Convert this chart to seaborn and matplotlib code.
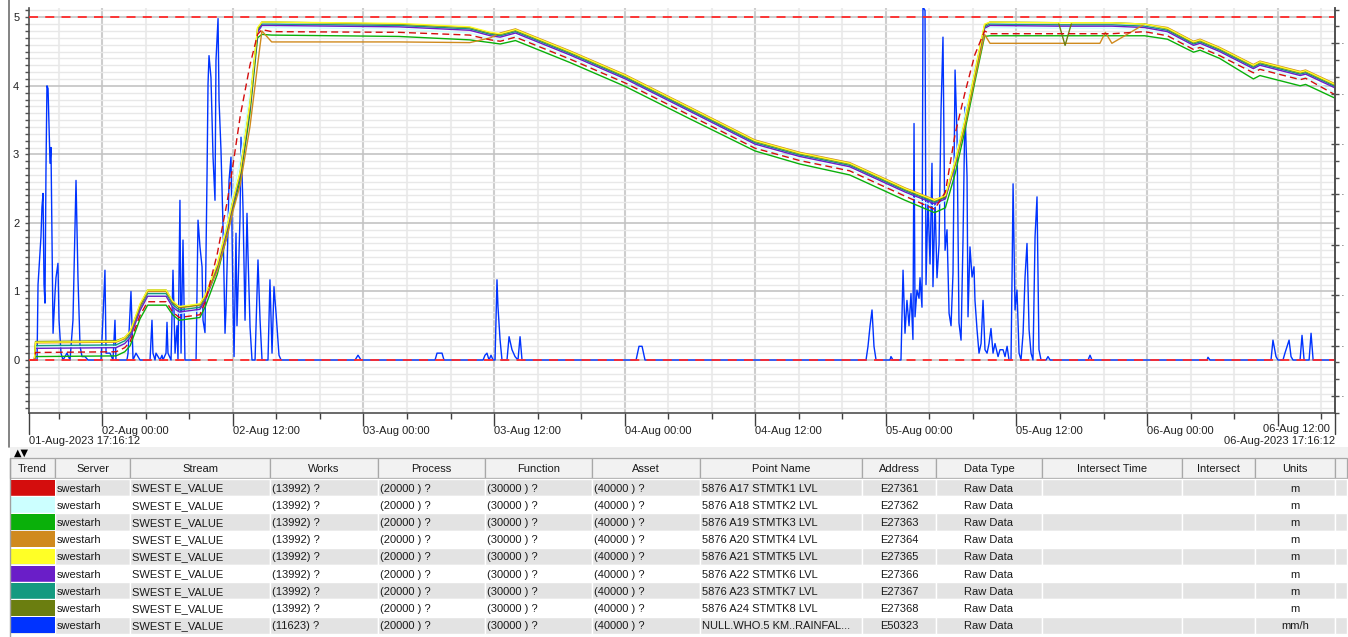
import pandas as pd
import matplotlib
matplotlib.use("Agg")
import matplotlib.pyplot as plt
import matplotlib.dates as mdates
from matplotlib.ticker import MultipleLocator, NullFormatter
from matplotlib.patches import Rectangle
import seaborn as sns

sns.set_theme(style="white")
plt.rcParams["font.family"] = ["Liberation Sans", "DejaVu Sans"]

start = pd.Timestamp("2023-08-01 17:16:12")
end = pd.Timestamp("2023-08-06 17:16:12")

# hours after start for the tank level samples
lvl_hours = [0.0, 0.5, 0.6, 8.0, 8.8, 9.3, 10.2, 10.9, 12.6, 13.2, 13.8, 15.7, 16.2, 17.3, 18.2, 18.7,
             19.4, 20.3, 21.0, 21.4, 22.3, 34.0, 40.5, 42.4, 43.3, 44.7, 49.7, 54.8, 60.7, 66.7, 70.8,
             75.4, 80.5, 83.2, 84.2, 85.1, 86.0, 86.9, 87.8, 88.3, 94.6, 95.2, 95.8, 98.4, 98.9, 99.5,
             102.5, 104.6, 107.0, 107.6, 109.4, 112.5, 113.1, 116.8, 117.3, 120.0]

stmtk1 = [0.0, 0.0, 0.11, 0.12, 0.18, 0.27, 0.65, 0.85, 0.85, 0.7, 0.62, 0.66, 0.85, 1.55, 2.3, 2.8,
          3.55, 4.3, 4.75, 4.82, 4.79, 4.78, 4.74, 4.67, 4.65, 4.71, 4.39, 4.04, 3.57, 3.09, 2.91,
          2.76, 2.39, 2.2, 2.45, 3.3, 3.9, 4.45, 4.8, 4.76, 4.76, 4.76, 4.76, 4.76, 4.76, 4.76,
          4.79, 4.73, 4.53, 4.56, 4.44, 4.19, 4.24, 4.09, 4.11, 3.87]
stmtk2 = [0.0, 0.0, 0.19, 0.2, 0.25, 0.34, 0.74, 0.95, 0.95, 0.78, 0.68, 0.72, 0.88, 1.4, 2.0, 2.4,
          2.9, 3.9, 4.8, 4.85, 4.85, 4.83, 4.77, 4.69, 4.67, 4.73, 4.41, 4.06, 3.59, 3.11, 2.93,
          2.78, 2.41, 2.24, 2.33, 2.95, 3.6, 4.25, 4.82, 4.85, 4.84, 4.84, 4.84, 4.84, 4.84, 4.84,
          4.82, 4.75, 4.55, 4.58, 4.46, 4.21, 4.26, 4.11, 4.13, 3.9]
stmtk3 = [0.0, 0.0, 0.05, 0.06, 0.12, 0.21, 0.6, 0.8, 0.8, 0.66, 0.58, 0.62, 0.78, 1.25, 1.82, 2.18,
          2.62, 3.6, 4.7, 4.75, 4.74, 4.72, 4.67, 4.63, 4.61, 4.66, 4.34, 3.99, 3.52, 3.05, 2.86,
          2.7, 2.33, 2.15, 2.22, 2.72, 3.35, 4.05, 4.72, 4.73, 4.73, 4.73, 4.73, 4.73, 4.73, 4.73,
          4.73, 4.68, 4.49, 4.52, 4.4, 4.1, 4.15, 4.0, 4.02, 3.82]
stmtk4 = [0.0, 0.0, 0.25, 0.26, 0.31, 0.4, 0.78, 1.0, 1.0, 0.84, 0.76, 0.8, 0.92, 1.3, 1.8, 2.15,
          2.55, 3.4, 4.3, 4.8, 4.64, 4.64, 4.63, 4.7, 4.77, 4.83, 4.51, 4.16, 3.69, 3.21, 3.03,
          2.88, 2.51, 2.34, 2.39, 2.85, 3.42, 4.1, 4.75, 4.62, 4.62, 4.62, 4.62, 4.62, 4.78, 4.62,
          4.9, 4.85, 4.65, 4.68, 4.56, 4.31, 4.36, 4.21, 4.23, 4.03]
stmtk5 = [0.0, 0.0, 0.26, 0.27, 0.33, 0.42, 0.82, 1.02, 1.02, 0.86, 0.78, 0.82, 0.95, 1.4, 1.95, 2.3,
          2.75, 3.75, 4.85, 4.93, 4.93, 4.91, 4.86, 4.78, 4.76, 4.82, 4.5, 4.15, 3.68, 3.2, 3.02,
          2.87, 2.5, 2.33, 2.4, 2.9, 3.5, 4.2, 4.9, 4.93, 4.92, 4.92, 4.92, 4.92, 4.92, 4.92,
          4.9, 4.84, 4.64, 4.67, 4.55, 4.3, 4.35, 4.2, 4.22, 4.02]
stmtk6 = [0.0, 0.0, 0.17, 0.18, 0.24, 0.33, 0.72, 0.93, 0.93, 0.77, 0.7, 0.74, 0.87, 1.33, 1.9, 2.25,
          2.7, 3.68, 4.78, 4.88, 4.88, 4.86, 4.81, 4.73, 4.71, 4.77, 4.45, 4.1, 3.63, 3.15, 2.97,
          2.82, 2.45, 2.28, 2.35, 2.85, 3.45, 4.15, 4.84, 4.88, 4.87, 4.87, 4.87, 4.87, 4.87, 4.87,
          4.85, 4.79, 4.59, 4.62, 4.5, 4.25, 4.3, 4.15, 4.17, 3.97]
stmtk7 = [0.0, 0.0, 0.21, 0.22, 0.28, 0.37, 0.76, 0.97, 0.97, 0.81, 0.73, 0.77, 0.9, 1.36, 1.92, 2.27,
          2.72, 3.7, 4.8, 4.9, 4.9, 4.88, 4.83, 4.75, 4.73, 4.79, 4.47, 4.12, 3.65, 3.17, 2.99,
          2.84, 2.47, 2.3, 2.37, 2.87, 3.47, 4.17, 4.86, 4.9, 4.89, 4.89, 4.89, 4.89, 4.89, 4.89,
          4.87, 4.81, 4.61, 4.64, 4.52, 4.27, 4.32, 4.17, 4.19, 3.99]
stmtk8 = [0.0, 0.0, 0.27, 0.28, 0.33, 0.41, 0.8, 1.02, 1.02, 0.85, 0.77, 0.81, 0.94, 1.38, 1.93, 2.28,
          2.72, 3.72, 4.83, 4.93, 4.93, 4.9, 4.85, 4.77, 4.75, 4.81, 4.49, 4.14, 3.67, 3.19, 3.01,
          2.86, 2.49, 2.32, 2.38, 2.88, 3.48, 4.18, 4.88, 4.93, 4.92, 4.59, 4.92, 4.92, 4.92, 4.92,
          4.9, 4.83, 4.63, 4.66, 4.54, 4.29, 4.34, 4.19, 4.21, 4.01]

# rainfall (mm/h), hours after start
rain_hours = [0.0, 0.74, 0.83, 1.10, 1.19, 1.29, 1.38, 1.47, 1.56, 1.65, 1.75, 1.93, 2.02, 2.11, 2.21,
              2.39, 2.48, 2.66, 2.76, 2.94, 3.12, 3.49, 3.77, 4.04, 4.23, 4.32, 4.50, 4.69, 4.87, 5.15,
              5.42, 6.62, 6.80, 6.98, 7.08, 7.44, 7.72, 7.90, 7.99, 9.00, 9.10, 9.37, 9.56, 9.83, 10.20,
              11.12, 11.30, 11.39, 11.58, 11.67, 11.85, 12.04, 12.22, 12.31, 12.59, 12.68, 12.77, 13.05,
              13.23, 13.42, 13.60, 13.69, 13.87, 13.97, 14.15, 14.33, 14.61, 15.35, 15.53, 15.71, 15.90,
              15.99, 16.17, 16.36, 16.45, 16.54, 16.72, 16.91, 17.09, 17.18, 17.37, 17.46, 17.64, 17.83,
              18.01, 18.10, 18.29, 18.38, 18.56, 18.75, 18.84, 19.02, 19.11, 19.39, 19.48, 19.66, 19.85,
              20.03, 20.12, 20.31, 20.49, 20.77, 21.04, 21.23, 21.41, 21.96, 22.14, 22.33, 22.51, 22.70,
              22.97, 23.16, 29.96, 30.23, 30.51, 37.31, 37.49, 37.95, 38.13, 41.72, 41.90, 42.08, 42.27,
              42.45, 42.64, 42.82, 43.00, 43.09, 43.28, 43.46, 43.92, 44.11, 44.38, 44.66, 44.93, 45.12,
              45.30, 55.78, 56.05, 56.33, 56.60, 76.91, 77.09, 77.28, 77.46, 77.64, 77.83, 79.11, 79.20,
              79.39, 80.12, 80.31, 80.49, 80.67, 80.86, 81.04, 81.22, 81.32, 81.41, 81.59, 81.78, 81.87,
              82.05, 82.14, 82.33, 82.42, 82.60, 82.79, 82.97, 83.06, 83.25, 83.43, 83.62, 83.80, 83.98,
              84.17, 84.35, 84.54, 84.72, 84.90, 85.09, 85.27, 85.45, 85.64, 85.82, 86.00, 86.19, 86.28,
              86.46, 86.65, 86.83, 86.92, 87.11, 87.29, 87.48, 87.66, 87.84, 88.03, 88.21, 88.39, 88.58,
              88.76, 89.04, 89.22, 89.50, 89.68, 89.87, 90.05, 90.23, 90.33, 90.42, 90.60, 90.78, 90.97,
              91.15, 91.34, 91.52, 91.70, 91.89, 92.07, 92.25, 92.44, 92.62, 92.80, 92.99, 93.45, 93.63,
              93.82, 97.31, 97.49, 97.67, 108.24, 108.33, 108.51, 114.12, 114.30, 114.58, 114.76, 115.22,
              115.40, 115.78, 115.96, 116.14, 116.79, 116.97, 117.16, 117.62, 117.80, 117.99, 120.0]
rain_mmh = [0.0, 0.0, 1.1, 1.8, 2.23, 2.43, 1.1, 0.83, 2.77, 4.0, 3.96, 2.87, 3.1, 1.85, 0.39,
            0.97, 1.2, 1.41, 0.58, 0.1, 0.0, 0.1, 0.0, 0.58, 1.94, 2.62, 1.2, 0.2, 0.05, 0.05,
            0.0, 0.0, 0.63, 1.31, 0.1, 0.1, 0.0, 0.58, 0.0, 0.0, 0.1, 1.0, 0.0, 0.1, 0.0,
            0.0, 0.58, 0.1, 0.0, 0.1, 0.05, 0.0, 0.07, 0.0, 0.1, 0.55, 0.1, 0.0,
            1.31, 0.1, 0.5, 0.0, 2.33, 0.1, 1.75, 0.0, 0.0, 0.0, 2.04, 1.65, 1.36,
            0.58, 0.4, 2.72, 4.03, 4.44, 4.12, 2.96, 2.33, 4.37, 4.98, 3.79, 3.06, 1.94,
            0.39, 0.73, 1.94, 2.62, 2.96, 0.78, 0.05, 1.85, 0.5, 2.09, 3.25, 2.23, 0.58,
            2.14, 1.55, 0.48, 0.0, 0.0, 1.46, 0.58, 0.0, 0.0, 1.17, 0.1, 1.07, 0.68,
            0.07, 0.0, 0.0, 0.07, 0.0, 0.0, 0.1, 0.1, 0.0, 0.0, 0.07, 0.1, 0.0,
            0.07, 0.0, 0.0, 1.17, 0.78, 0.3, 0.0, 0.0, 0.34, 0.15, 0.05, 0.0, 0.34,
            0.0, 0.0, 0.2, 0.2, 0.0, 0.0, 0.2, 0.5, 0.73, 0.2, 0.0, 0.0, 0.05,
            0.0, 0.0, 1.31, 0.39, 0.87, 0.5, 0.97, 0.3, 3.45, 0.63, 1.02, 0.9, 1.2,
            0.77, 5.15, 5.1, 1.1, 2.33, 1.4, 2.87, 1.07, 2.33, 1.2, 1.69, 3.64, 4.71,
            1.6, 1.9, 0.68, 0.5, 1.26, 4.23, 3.3, 0.54, 0.29, 1.75, 3.69, 2.67, 0.63,
            1.65, 1.21, 1.36, 0.87, 0.44, 0.1, 0.24, 0.87, 0.15, 0.1, 0.24, 0.46, 0.1,
            0.24, 0.05, 0.15, 0.15, 0.05, 0.2, 0.0, 0.0, 1.26, 2.57, 0.73, 1.02, 0.1,
            0.0, 0.39, 1.21, 1.7, 0.44, 0.1, 0.0, 1.8, 2.38, 0.15, 0.0, 0.0, 0.05,
            0.0, 0.0, 0.07, 0.0, 0.0, 0.04, 0.0, 0.0, 0.29, 0.05, 0.0, 0.0,
            0.1, 0.29, 0.05, 0.0, 0.0, 0.36, 0.0, 0.0, 0.39, 0.0, 0.0]

trend_colors = ["#d40d0d", "#ccffff", "#0ab00a", "#d08a1e", "#ffff26", "#6a1ec8", "#149a80", "#6b7e10", "#0033ff"]
level_series = [stmtk1, stmtk2, stmtk3, stmtk4, stmtk5, stmtk6, stmtk7, stmtk8]
alarm_limits = [0, 5]

# table contents
col_names = ["Trend", "Server", "Stream", "Works", "Process", "Function", "Asset", "Point Name",
             "Address", "Data Type", "Intersect Time", "Intersect", "Units", ""]
servers = ["swestarh"] * 9
streams = ["SWEST E_VALUE"] * 9
works = ["(13992) ?"] * 8 + ["(11623) ?"]
processes = ["(20000 ) ?"] * 9
functions = ["(30000 ) ?"] * 9
assets = ["(40000 ) ?"] * 9
point_names = ["5876 A17 STMTK1 LVL", "5876 A18 STMTK2 LVL", "5876 A19 STMTK3 LVL", "5876 A20 STMTK4 LVL",
               "5876 A21 STMTK5 LVL", "5876 A22 STMTK6 LVL", "5876 A23 STMTK7 LVL", "5876 A24 STMTK8 LVL",
               "NULL.WHO.5 KM..RAINFAL..."]
addresses = ["E27361", "E27362", "E27363", "E27364", "E27365", "E27366", "E27367", "E27368", "E50323"]
data_types = ["Raw Data"] * 9
units = ["m"] * 8 + ["mm/h"]

W, H = 1348, 637
fig = plt.figure(figsize=(W / 100, H / 100), dpi=100)
fig.patch.set_facecolor("white")
ax = fig.add_axes([29 / W, (H - 413) / H, 1306 / W, 405 / H])

lvl_times = start + pd.to_timedelta(lvl_hours, unit="h")
rain_times = start + pd.to_timedelta(rain_hours, unit="h")

sns.lineplot(x=rain_times, y=rain_mmh, color=trend_colors[8], lw=1.0, ax=ax,
             estimator=None, sort=False, zorder=3)

draw_order = [1, 2, 6, 5, 3, 7, 4, 0]
for i in draw_order:
    ls = (0, (5, 3)) if i == 0 else "-"
    sns.lineplot(x=lvl_times, y=level_series[i], color=trend_colors[i], lw=1.0, ls=ls, ax=ax,
                 estimator=None, sort=False, zorder=4)

for lim in alarm_limits:
    ax.axhline(lim, color="#ff2a2a", lw=1.3, ls=(0, (5, 4)), zorder=5)

ax.set_xlim(start, end)
ax.set_ylim(-0.773, 5.135)
ax.set_xlabel("")
ax.set_ylabel("")

major_x = [pd.Timestamp("2023-08-02 00:00") + pd.Timedelta(hours=12 * k) for k in range(10)]
major_lbl = [t.strftime("%d-%b %H:%M") for t in major_x]
ax.set_xticks(major_x, major_lbl[:-1] + [""])
ax.xaxis.set_minor_locator(mdates.HourLocator(byhour=range(0, 24, 4)))
ax.xaxis.set_minor_formatter(NullFormatter())
ax.yaxis.set_major_locator(MultipleLocator(1))
ax.yaxis.set_minor_locator(MultipleLocator(0.1))
ax.yaxis.set_major_formatter(plt.FuncFormatter(lambda v, p: f"{v:.0f}"))

ax.grid(which="minor", axis="y", color="#e8e8e8", lw=1.0)
ax.grid(which="major", axis="y", color="#c4c4c4", lw=1.2)
ax.grid(which="minor", axis="x", color="#ececec", lw=1.5)
ax.grid(which="major", axis="x", color="#cdcdcd", lw=1.5)
ax.set_axisbelow(True)

ax.tick_params(axis="x", which="major", length=9, width=1, color="#404040", labelsize=8,
               labelcolor="#222222", pad=0, bottom=True)
ax.tick_params(axis="x", which="minor", length=4, width=1, color="#404040", bottom=True)
ax.tick_params(axis="y", which="both", length=3, width=1, color="#505050", left=True,
               labelsize=8, labelcolor="#222222", pad=4)
for lab in ax.get_xticklabels():
    lab.set_ha("left")

for side in ["left", "bottom", "right"]:
    ax.spines[side].set_visible(True)
    ax.spines[side].set_color("#505050")
    ax.spines[side].set_linewidth(1.2)
ax.spines["top"].set_visible(False)

# last tick label pushed inside the plot, as the trend viewer does
ax.text(1 - 5 / 1306, -16 / 405, major_lbl[-1], transform=ax.transAxes, ha="right", va="center",
        fontsize=8, color="#222222")

# right-hand scale (unlabelled)
ax2 = ax.twinx()
ax2.set_ylim(-0.337, 7.70)
ax2.yaxis.set_major_locator(MultipleLocator(1))
ax2.yaxis.set_minor_locator(MultipleLocator(1 / 3))
ax2.yaxis.set_major_formatter(plt.FuncFormatter(lambda v, p: "·"))
ax2.tick_params(axis="y", which="major", direction="inout", length=6, width=1, color="#505050",
                labelsize=8, labelcolor="#333333", pad=1)
ax2.tick_params(axis="y", which="minor", direction="out", length=3, width=1, color="#505050")
ax2.grid(False)
for side in ["left", "top", "bottom"]:
    ax2.spines[side].set_visible(False)
ax2.spines["right"].set_color("#505050")
ax2.spines["right"].set_linewidth(1.2)

# overlay in pixel coordinates for the frame, footer texts and point table
ov = fig.add_axes([0, 0, 1, 1])
ov.set_xlim(0, W)
ov.set_ylim(H, 0)
ov.axis("off")
ov.patch.set_alpha(0)

ov.plot([9, 9], [0, 447], color="#6e6e6e", lw=1.2)
ov.plot([29, 29], [413, 434], color="#404040", lw=1)
ov.plot([1335, 1335], [413, 434], color="#404040", lw=1)
ov.text(29, 441.5, start.strftime("%d-%b-%Y %H:%M:%S"), fontsize=8, color="#222222", va="center", ha="left")
ov.text(1335, 441.5, end.strftime("%d-%b-%Y %H:%M:%S"), fontsize=8, color="#222222", va="center", ha="right")
ov.add_patch(Rectangle((10, 447), W - 10, 11, facecolor="#f0f0f0", edgecolor="none"))
ov.text(14, 452.5, "▲▼", fontsize=7, color="black", va="center", ha="left", family="DejaVu Sans")

col_edges = [10, 55, 130, 270, 378, 485, 592, 700, 862, 936, 1042, 1182, 1255, 1335, 1347]
col_align = ["swatch", "left", "left", "left", "left", "left", "left", "left",
             "center", "center", "center", "center", "center", "center"]
row_cells = list(zip(servers, streams, works, processes, functions, assets, point_names,
                     addresses, data_types, [""] * 9, [""] * 9, units, [""] * 9))

hdr_top, hdr_h, row_h = 458, 20, 17.2
for j, name in enumerate(col_names):
    x0, x1 = col_edges[j], col_edges[j + 1]
    ov.add_patch(Rectangle((x0, hdr_top), x1 - x0, hdr_h, facecolor="#f2f2f2",
                           edgecolor="#a8a8a8", lw=0.9))
    ov.text((x0 + x1) / 2, hdr_top + hdr_h / 2 + 0.5, name, fontsize=8, color="#1a1a1a",
            ha="center", va="center_baseline")

for i in range(9):
    y0 = hdr_top + hdr_h + 1 + i * row_h
    bg = "#e3e3e3" if i % 2 == 0 else "white"
    for j in range(len(col_names)):
        x0, x1 = col_edges[j], col_edges[j + 1]
        ov.add_patch(Rectangle((x0, y0), x1 - x0, row_h, facecolor=bg, edgecolor="white", lw=1))
    ov.add_patch(Rectangle((col_edges[0] + 1, y0 + 0.8), col_edges[1] - col_edges[0] - 1.5, row_h - 1.4,
                           facecolor=trend_colors[i], edgecolor="none"))
    for j, val in enumerate(row_cells[i], start=1):
        x0, x1 = col_edges[j], col_edges[j + 1]
        if col_align[j] == "left":
            ov.text(x0 + 2, y0 + row_h / 2, val, fontsize=8, color="#1a1a1a", ha="left",
                    va="center_baseline")
        else:
            ov.text((x0 + x1) / 2, y0 + row_h / 2, val, fontsize=8, color="#1a1a1a", ha="center",
                    va="center_baseline")

ov.plot([10, 10], [458, H], color="#a0a0a0", lw=1)

fig.savefig("out.png", dpi=100)
